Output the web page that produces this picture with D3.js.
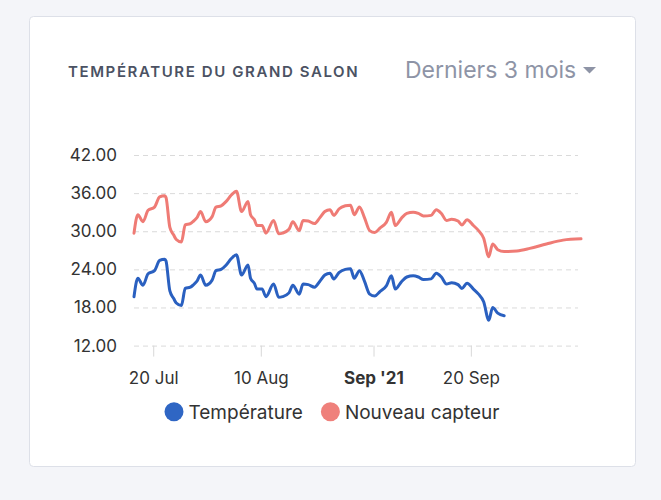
<!DOCTYPE html>
<html>
<head>
<meta charset="utf-8">
<script src="https://cdn.jsdelivr.net/npm/d3@7"></script>
<style>
  html, body { margin: 0; padding: 0; background: #f4f5f9; }
  svg { display: block; font-family: Inter, "Noto Sans", sans-serif; }
</style>
</head>
<body>
<div id="chart"></div>
<script>
// readings, one date per point (hour precision)
const dates = [
  "2021-07-16 06", "2021-07-17 00", "2021-07-18 00", "2021-07-19 00", "2021-07-20 06",
  "2021-07-21 06", "2021-07-22 06", "2021-07-22 12", "2021-07-23 06", "2021-07-24 00",
  "2021-07-24 12", "2021-07-25 12", "2021-07-26 06", "2021-07-27 06", "2021-07-27 18",
  "2021-07-28 12", "2021-07-29 06", "2021-07-30 06", "2021-07-31 12", "2021-08-01 06",
  "2021-08-02 06", "2021-08-03 06", "2021-08-04 06", "2021-08-05 06", "2021-08-06 06",
  "2021-08-07 12", "2021-08-08 00", "2021-08-08 18", "2021-08-09 06", "2021-08-10 06",
  "2021-08-11 00", "2021-08-12 12", "2021-08-13 12", "2021-08-14 06", "2021-08-15 12",
  "2021-08-16 06", "2021-08-17 12", "2021-08-18 06", "2021-08-19 06", "2021-08-20 12",
  "2021-08-21 12", "2021-08-22 12", "2021-08-23 12", "2021-08-24 06", "2021-08-25 06",
  "2021-08-26 12", "2021-08-27 12", "2021-08-28 06", "2021-08-29 06", "2021-08-30 06",
  "2021-08-31 06", "2021-09-01 06", "2021-09-02 06", "2021-09-03 12", "2021-09-04 12",
  "2021-09-05 06", "2021-09-06 12", "2021-09-07 12", "2021-09-08 18", "2021-09-09 18",
  "2021-09-10 18", "2021-09-12 06", "2021-09-13 06", "2021-09-14 06", "2021-09-15 06",
  "2021-09-16 06", "2021-09-17 12", "2021-09-18 06", "2021-09-19 06", "2021-09-20 12",
  "2021-09-21 12", "2021-09-22 12", "2021-09-23 12", "2021-09-24 06", "2021-09-25 06",
  "2021-09-26 12", "2021-09-29 00", "2021-10-01 12", "2021-10-04 18", "2021-10-08 00",
  "2021-10-11 12"
];

// "Température" stops on 26 Sep
const temperature = [
  19.7, 22.6, 21.5, 23.3, 23.8, 25.4, 25.6, 25.3, 20.6, 19.4,
  18.7, 18.3, 21.0, 21.2, 21.5, 22.1, 23.1, 21.5, 22.3, 23.8,
  24.0, 24.7, 25.7, 26.3, 23.1, 24.7, 22.6, 21.8, 20.9, 20.9,
  19.7, 21.7, 19.6, 19.7, 20.3, 21.5, 20.1, 21.7, 21.6, 21.2,
  22.1, 23.1, 23.4, 22.5, 23.5, 24.0, 24.1, 22.6, 23.8, 22.1,
  20.1, 19.8, 20.5, 21.4, 23.0, 20.9, 22.1, 22.8, 23.0, 22.8,
  22.4, 22.5, 23.4, 22.8, 21.7, 21.9, 21.6, 21.0, 21.8, 20.9,
  20.1, 18.9, 16.0, 18.0, 17.1, 16.7
];

const capteur = [
  29.7, 32.6, 31.5, 33.3, 33.8, 35.4, 35.6, 35.3, 30.6, 29.4,
  28.7, 28.3, 31.0, 31.2, 31.5, 32.1, 33.1, 31.5, 32.3, 33.8,
  34.0, 34.7, 35.7, 36.3, 33.1, 34.7, 32.6, 31.8, 30.9, 30.9,
  29.7, 31.7, 29.6, 29.7, 30.3, 31.5, 30.1, 31.7, 31.6, 31.2,
  32.1, 33.1, 33.4, 32.5, 33.5, 34.0, 34.1, 32.6, 33.8, 32.1,
  30.1, 29.8, 30.5, 31.4, 33.0, 30.9, 32.1, 32.8, 33.0, 32.8,
  32.4, 32.5, 33.4, 32.8, 31.7, 31.9, 31.6, 31.0, 31.8, 30.9,
  30.1, 28.9, 26.0, 28.0, 27.1, 26.8, 26.9, 27.3, 28.0, 28.6,
  28.8
];

const yTicks = [12, 18, 24, 30, 36, 42];
const xTickDates = ["2021-07-20 00", "2021-08-10 00", "2021-09-01 00", "2021-09-20 00"];
const xTickLabels = ["20 Jul", "10 Aug", "Sep '21", "20 Sep"];
const seriesNames = ["Température", "Nouveau capteur"];
const seriesColors = ["#2a60c0", "#ef7b75"];

const width = 661;
const height = 500;
const parseDate = d3.timeParse("%Y-%m-%d %H");
const times = dates.map(parseDate);

const svg = d3.select("#chart")
  .append("svg")
  .attr("width", width)
  .attr("height", height);

svg.append("rect")
  .attr("width", width)
  .attr("height", height)
  .attr("fill", "#f4f5f9");

// card
svg.append("rect")
  .attr("x", 29.5)
  .attr("y", 16.5)
  .attr("width", 606)
  .attr("height", 450)
  .attr("rx", 4)
  .attr("fill", "#fff")
  .attr("stroke", "#dde0e8");

svg.append("text")
  .attr("x", 68)
  .attr("y", 77)
  .attr("font-size", 15)
  .attr("font-weight", 600)
  .attr("letter-spacing", 1.6)
  .attr("fill", "#4b5263")
  .text("TEMPÉRATURE DU GRAND SALON");

svg.append("text")
  .attr("x", 405)
  .attr("y", 78)
  .attr("font-size", 23)
  .attr("fill", "#8e94a6")
  .text("Derniers 3 mois");

svg.append("path")
  .attr("d", "M583,67L596,67L589.5,73.5Z")
  .attr("fill", "#8e94a6");

const x = d3.scaleTime()
  .domain(d3.extent(times))
  .range([134, 581]);

const y = d3.scaleLinear()
  .domain([12, 42])
  .range([345.6, 155]);

const gridRight = 578;

const yAxis = svg.append("g")
  .attr("transform", "translate(134,0)")
  .call(d3.axisLeft(y)
    .tickValues(yTicks)
    .tickSize(-(gridRight - 134))
    .tickPadding(17)
    .tickFormat(d3.format(".2f")));
yAxis.select(".domain").remove();
yAxis.selectAll("line")
  .attr("stroke", "#dadada")
  .attr("stroke-dasharray", "5,4");
yAxis.selectAll("text")
  .attr("font-family", "Inter, sans-serif")
  .attr("font-size", 17)
  .attr("fill", "#333");

const xAxis = svg.append("g")
  .attr("transform", "translate(0," + y(12) + ")")
  .call(d3.axisBottom(x)
    .tickValues(xTickDates.map(parseDate))
    .tickSize(11)
    .tickPadding(15)
    .tickFormat((d, i) => xTickLabels[i]));
xAxis.select(".domain").remove();
xAxis.selectAll("line").attr("stroke", "#d8d8d8");
xAxis.selectAll("text")
  .attr("font-family", "Inter, sans-serif")
  .attr("font-size", 17)
  .attr("fill", "#333")
  .attr("font-weight", (d, i) => i === 2 ? 700 : 400);

const line = d3.line()
  .defined(d => d[1] != null)
  .x(d => x(d[0]))
  .y(d => y(d[1]))
  .curve(d3.curveMonotoneX);

[capteur, temperature].forEach((vals, k) => {
  const pts = vals.map((v, i) => [times[i], v]);
  svg.append("path")
    .datum(pts)
    .attr("d", line)
    .attr("fill", "none")
    .attr("stroke", k === 0 ? seriesColors[1] : seriesColors[0])
    .attr("stroke-width", 3)
    .attr("stroke-linejoin", "round")
    .attr("stroke-linecap", "round");
});

// legend, centred under the plot
const legend = svg.append("g");
let lx = 0;
seriesNames.forEach((name, i) => {
  legend.append("circle")
    .attr("cx", lx + 9.5)
    .attr("cy", 0)
    .attr("r", 9.5)
    .attr("fill", i === 0 ? "#2f66c4" : "#ef807b");
  const t = legend.append("text")
    .attr("x", lx + 24)
    .attr("y", 7)
    .attr("font-size", 19)
    .attr("fill", "#333")
    .text(name);
  lx += 24 + t.node().getComputedTextLength() + 18;
});
lx -= 18;
legend.attr("transform", "translate(" + (332 - lx / 2) + ",411.7)");
</script>
</body>
</html>
